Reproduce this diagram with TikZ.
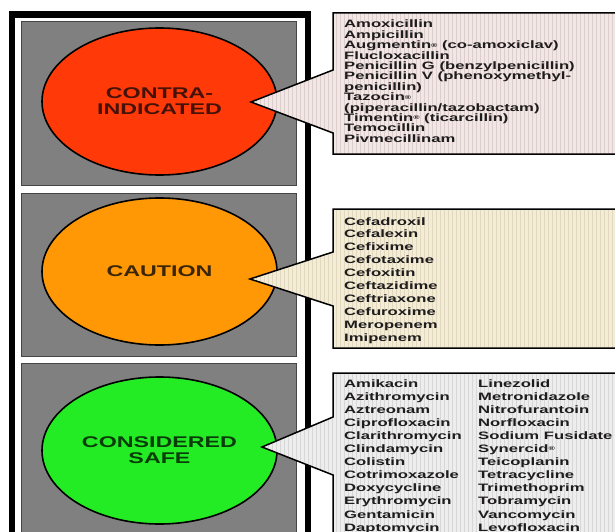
\documentclass[tikz,border=0pt]{standalone}
\usepackage{fontspec}
\usepackage{graphicx}
\usetikzlibrary{shapes.geometric}
\newfontfamily\listfont[FakeStretch=1.55]{Liberation Sans}
\newfontfamily\labfont[FakeStretch=1.5]{Liberation Sans}
\newcommand{\regmark}{\raisebox{1.6pt}{\fontsize{5.5}{5.5}\selectfont ®}}
\definecolor{panelgray}{RGB}{128,128,128}
\definecolor{panelborder}{RGB}{70,70,70}
\definecolor{redlight}{RGB}{255,58,8}
\definecolor{orangelight}{RGB}{255,152,4}
\definecolor{greenlight}{RGB}{36,236,36}
\definecolor{redtext}{RGB}{70,18,8}
\definecolor{orangetext}{RGB}{60,38,8}
\definecolor{greentext}{RGB}{10,60,10}
\definecolor{listcol}{RGB}{30,28,28}
\definecolor{fillA}{RGB}{241,231,229}
\definecolor{gridA}{RGB}{222,205,205}
\definecolor{fillB}{RGB}{243,237,216}
\definecolor{gridB}{RGB}{225,216,190}
\definecolor{fillC}{RGB}{237,237,237}
\definecolor{gridC}{RGB}{215,215,215}
\tikzset{
  panel/.style={fill=panelgray, draw=panelborder, line width=0.8pt},
  lightnode/.style={ellipse, draw=black, line width=1.6pt, minimum width=235pt,
    minimum height=147pt, inner sep=0pt, align=center,
    font=\labfont\bfseries\fontsize{15.5}{16}\selectfont},
  listtext/.style={anchor=base west, inner sep=0pt, text=listcol,
    font=\listfont\bfseries\fontsize{10.75}{12}\selectfont},
  calloutline/.style={draw=black, line width=1.5pt, line join=miter},
  gridlines/.style={line width=0.35pt}
}
\begin{document}
\begin{tikzpicture}[x=1pt,y=-1pt]
\useasboundingbox (0,0) rectangle (615,532);
\clip (0,0) rectangle (615,532);
\fill[white] (0,0) rectangle (615,532);

% outer black frame
\draw[line width=6.5pt] (12,14.5) rectangle (308,600);

% grey panels
\draw[panel] (21,21) rectangle (296,185);
\draw[panel] (21,193) rectangle (296,356);
\draw[panel] (21,363) rectangle (296,600);

% lights
\node[lightnode, fill=redlight, text=redtext] (contra) at (159.5,101.5) {CONTRA-\\INDICATED};
\node[lightnode, fill=orangelight, text=orangetext] (caution) at (159.5,271.5) {CAUTION};
\node[lightnode, fill=greenlight, text=greentext] (safe) at (159.5,450.5) {CONSIDERED\\SAFE};

% callout 1
\coordinate (tipA) at (251,102);
\path[fill=fillA] (333,13) -- (650,13) -- (650,154) -- (333,154) -- (333,133) -- (tipA) -- (333,70) -- cycle;
\begin{scope}
  \clip (333,13) -- (650,13) -- (650,154) -- (333,154) -- (333,133) -- (tipA) -- (333,70) -- cycle;
  \draw[gridlines, draw=gridA, step=4] (240,12) grid (650,160);
\end{scope}
\draw[calloutline] (333,13) -- (650,13) -- (650,154) -- (333,154) -- (333,133) -- (tipA) -- (333,70) -- cycle;

% callout 2
\coordinate (tipB) at (250,279);
\path[fill=fillB] (333,209) -- (650,209) -- (650,348) -- (333,348) -- (333,306) -- (tipB) -- (333,252) -- cycle;
\begin{scope}
  \clip (333,209) -- (650,209) -- (650,348) -- (333,348) -- (333,306) -- (tipB) -- (333,252) -- cycle;
  \draw[gridlines, draw=gridB, step=4] (240,208) grid (650,352);
\end{scope}
\draw[calloutline] (333,209) -- (650,209) -- (650,348) -- (333,348) -- (333,306) -- (tipB) -- (333,252) -- cycle;

% callout 3
\coordinate (tipC) at (262,447);
\path[fill=fillC] (333,373) -- (650,373) -- (650,600) -- (333,600) -- (333,475) -- (tipC) -- (333,417) -- cycle;
\begin{scope}
  \clip (333,373) -- (650,373) -- (650,600) -- (333,600) -- (333,475) -- (tipC) -- (333,417) -- cycle;
  \draw[gridlines, draw=gridC, step=4] (240,372) grid (650,600);
\end{scope}
\draw[calloutline] (333,373) -- (650,373) -- (650,600) -- (333,600) -- (333,475) -- (tipC) -- (333,417) -- cycle;

% lists
\foreach \t [count=\i from 0] in {{Amoxicillin},{Ampicillin},{Augmentin\regmark{} (co-amoxiclav)},{Flucloxacillin},{Penicillin G (benzylpenicillin)},{Penicillin V (phenoxymethyl-},{penicillin)},{Tazocin\regmark},{(piperacillin/tazobactam)},{Timentin\regmark{} (ticarcillin)},{Temocillin},{Pivmecillinam}}
  \node[listtext] (la\i) at (344,{28+\i*10.4}) {\t};

\foreach \t [count=\i from 0] in {Cefadroxil,Cefalexin,Cefixime,Cefotaxime,Cefoxitin,Ceftazidime,Ceftriaxone,Cefuroxime,Meropenem,Imipenem}
  \node[listtext] (lb\i) at (344,{225+\i*12.9}) {\t};

\foreach \t [count=\i from 0] in {Amikacin,Azithromycin,Aztreonam,Ciprofloxacin,Clarithromycin,Clindamycin,Colistin,Cotrimoxazole,Doxycycline,Erythromycin,Gentamicin,Daptomycin}
  \node[listtext] (lc\i) at (344,{387+\i*13.1}) {\t};

\foreach \t [count=\i from 0] in {Linezolid,Metronidazole,Nitrofurantoin,Norfloxacin,{Sodium Fusidate},{Synercid\regmark},Teicoplanin,Tetracycline,Trimethoprim,Tobramycin,Vancomycin,Levofloxacin}
  \node[listtext] (ld\i) at (478,{387+\i*13.1}) {\t};
\end{tikzpicture}
\end{document}
